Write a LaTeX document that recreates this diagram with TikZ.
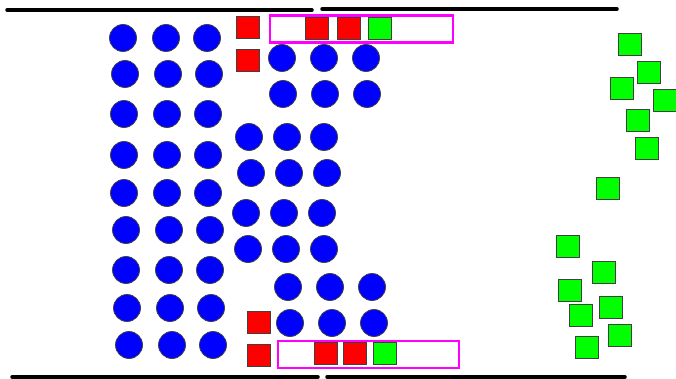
\documentclass[tikz,border=0pt]{standalone}
\usepackage{tikz}
\usetikzlibrary{positioning}
\definecolor{bluex}{HTML}{0000FF}
\definecolor{redx}{HTML}{FF0000}
\definecolor{greenx}{HTML}{00FF00}
\definecolor{magx}{HTML}{FF00FF}
\tikzset{
  pc/.style={circle,draw=black!75,line width=0.8pt,fill=bluex,minimum size=27pt,inner sep=0pt},
  rq/.style={rectangle,draw=black!75,line width=0.8pt,fill=redx,minimum width=23pt,minimum height=22pt,inner sep=0pt},
  gq/.style={rectangle,draw=black!75,line width=0.8pt,fill=greenx,minimum width=23pt,minimum height=22pt,inner sep=0pt},
  gate/.style={rectangle,draw=magx,line width=2.5pt,inner sep=0pt},
  wall/.style={line width=3.5pt,line cap=round}
}

\begin{document}
\begin{tikzpicture}[x=1pt,y=-1pt]
\useasboundingbox (0,0) rectangle (676,379);
% walls
\draw[wall] (7,10)--(312,10);
\draw[wall] (322,9)--(617,9);
\draw[wall] (12,377)--(318,377);
\draw[wall] (327,377)--(625,377);
% gates
\node[gate,minimum width=183pt,minimum height=27pt] (gtop) at (361.5,29) {};
\node[gate,minimum width=181pt,minimum height=27pt] (gbot) at (368.5,354.5) {};
% left block of people
\foreach \yy/\xx [count=\i] in {38/123,74/125,114/124,155/124,193/124,230/126,270/126,308/127,345/129}{
  \node[pc] (la\i) at (\xx,\yy) {};
  \node[pc] (lb\i) at (\xx+43,\yy) {};
  \node[pc] (lc\i) at (\xx+84,\yy) {};
}
% right block of people
\foreach \yy/\xa/\xb/\xc [count=\i] in {58/282/324/366,94/283/325/367,137/249/287/324,173/251/289/327,
  213/246/284/322,249/248/286/324,287/288/330/372,323/290/332/374}{
  \node[pc] (ra\i) at (\xa,\yy) {};
  \node[pc] (rb\i) at (\xb,\yy) {};
  \node[pc] (rc\i) at (\xc,\yy) {};
}
% red ones waiting
\node[rq] (wt1) at (248,27.5) {};
\node[rq] (wt2) at (248,60.5) {};
\node[rq] (wb1) at (258.5,322.5) {};
\node[rq] (wb2) at (258.5,355.5) {};
% in the gates
\node[rq] (gt1) at (316.5,28.5) {};
\node[rq] (gt2) at (349,28.5) {};
\node[gq] (gt3) at (379.5,28.5) {};
\node[rq] (gb1) at (325.5,353.5) {};
\node[rq] (gb2) at (354.5,353.5) {};
\node[gq] (gb3) at (385,353.5) {};
% green ones through
\foreach \xx/\yy [count=\i] in {630/44.5,648.5/72,621.5/88.5,665/100.5,637.5/120.5,646.5/148,607.5/188.5,
  568/246.5,604/272.5,570/290.5,611/307.5,581/315.5,620/335.5,586.5/347.5}{
  \node[gq] (out\i) at (\xx,\yy) {};
}
\end{tikzpicture}
\end{document}
